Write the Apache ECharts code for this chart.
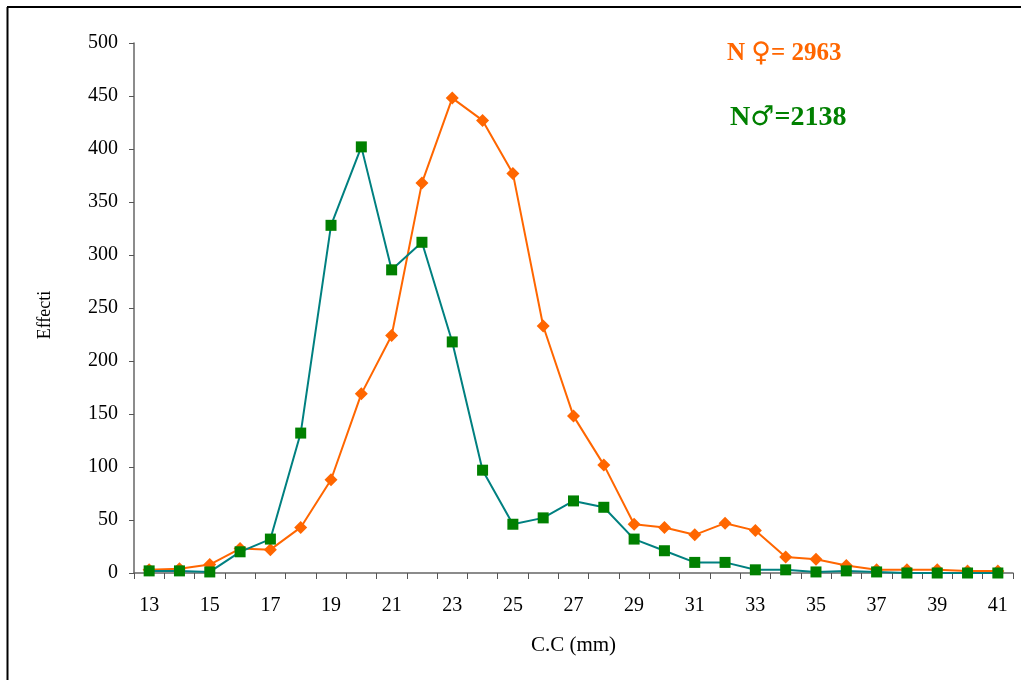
<!DOCTYPE html>
<html>
<head>
<meta charset="utf-8">
<script src="https://cdn.jsdelivr.net/npm/echarts@6/dist/echarts.min.js"></script>
<style>
  html, body { margin: 0; padding: 0; background: #fff; }
  #chart { width: 1021px; height: 680px; }
</style>
</head>
<body>
<div id="chart"></div>
<script>
// Carapace width classes (mm)
const sizeClasses = ['13','14','15','16','17','18','19','20','21','22','23','24','25','26','27',
                     '28','29','30','31','32','33','34','35','36','37','38','39','40','41'];
// Counts per class, females
const females = [3, 4, 8, 23, 22, 43, 88, 169, 224, 368, 448, 427, 377, 233, 148,
                 102, 46, 43, 36, 47, 40, 15, 13, 7, 3, 3, 3, 2, 2];
// Counts per class, males
const males = [2, 2, 1, 20, 32, 132, 328, 402, 286, 312, 218, 97, 46, 52, 68,
               62, 32, 21, 10, 10, 3, 3, 1, 2, 1, 0, 0, 0, 0];
const yTicks = { min: 0, max: 500, interval: 50 };
const femaleLabel = ['N ', '\u2640', '= 2963'];
const maleLabel = ['N', '\u2642', '=2138'];

const serif = '"Liberation Serif", "DejaVu Serif", serif';
const chart = echarts.init(document.getElementById('chart'), null, { renderer: 'canvas' });

chart.setOption({
  backgroundColor: '#fff',
  animation: false,
  grid: { left: 134, top: 43, width: 879, height: 530, containLabel: false },
  xAxis: {
    type: 'category',
    data: sizeClasses,
    boundaryGap: true,
    name: 'C.C (mm)',
    nameLocation: 'middle',
    nameGap: 62,
    nameTextStyle: { fontFamily: serif, fontSize: 21, color: '#000', letterSpacing: -0.5 },
    axisLine: { lineStyle: { color: '#666', width: 1.5 } },
    axisTick: { show: true, interval: 0, length: 6, lineStyle: { color: '#555' } },
    axisLabel: { interval: 1, margin: 23, fontFamily: serif, fontSize: 20, color: '#000', letterSpacing: 2 },
    splitLine: { show: false }
  },
  yAxis: {
    type: 'value',
    min: yTicks.min, max: yTicks.max, interval: yTicks.interval,
    axisLine: { show: true, lineStyle: { color: '#666', width: 1.5 } },
    axisTick: { show: true, length: 5, lineStyle: { color: '#555' } },
    axisLabel: { margin: 16, fontFamily: serif, fontSize: 20, color: '#000', letterSpacing: 3 },
    splitLine: { show: false }
  },
  series: [
    {
      name: 'Femelles',
      type: 'line',
      data: females,
      symbol: 'diamond',
      symbolSize: [13, 13],
      lineStyle: { color: '#FF6600', width: 2 },
      itemStyle: { color: '#FF6600' },
      z: 2
    },
    {
      name: 'Mâles',
      type: 'line',
      data: males,
      symbol: 'rect',
      symbolSize: 11,
      lineStyle: { color: '#008080', width: 2 },
      itemStyle: { color: '#008000' },
      z: 3
    }
  ],
  graphic: [
    { type: 'line', shape: { x1: 7.5, y1: 7, x2: 7.5, y2: 680 }, style: { stroke: '#000', lineWidth: 2 } },
    { type: 'line', shape: { x1: 7, y1: 7, x2: 1021, y2: 7 }, style: { stroke: '#000', lineWidth: 2 } },
    {
      // y-axis title
      type: 'text', x: 45, y: 315, rotation: Math.PI / 2,
      style: {
        text: 'Effecti', fontFamily: serif, fontSize: 18, fill: '#000',
        letterSpacing: -1, align: 'center', verticalAlign: 'middle'
      }
    },
    {
      type: 'text', left: 727, top: 40,
      style: {
        text: '{a|' + femaleLabel[0] + '}{s|' + femaleLabel[1] + '}{a|' + femaleLabel[2] + '}',
        rich: {
          a: { fontFamily: serif, fontSize: 25, fontWeight: 'bold', fill: '#FF6600', verticalAlign: 'middle' },
          s: { fontFamily: '"DejaVu Sans", sans-serif', fontSize: 27, fontWeight: 'normal', fill: '#FF6600', verticalAlign: 'middle' }
        }
      }
    },
    {
      type: 'text', left: 730, top: 104,
      style: {
        text: '{a|' + maleLabel[0] + '}{s|' + maleLabel[1] + '}{a|' + maleLabel[2] + '}',
        rich: {
          a: { fontFamily: serif, fontSize: 28, fontWeight: 'bold', fill: '#008000', verticalAlign: 'middle' },
          s: { fontFamily: '"DejaVu Sans", sans-serif', fontSize: 27, fontWeight: 'normal', fill: '#008000', verticalAlign: 'middle' }
        }
      }
    }
  ]
});
</script>
</body>
</html>
